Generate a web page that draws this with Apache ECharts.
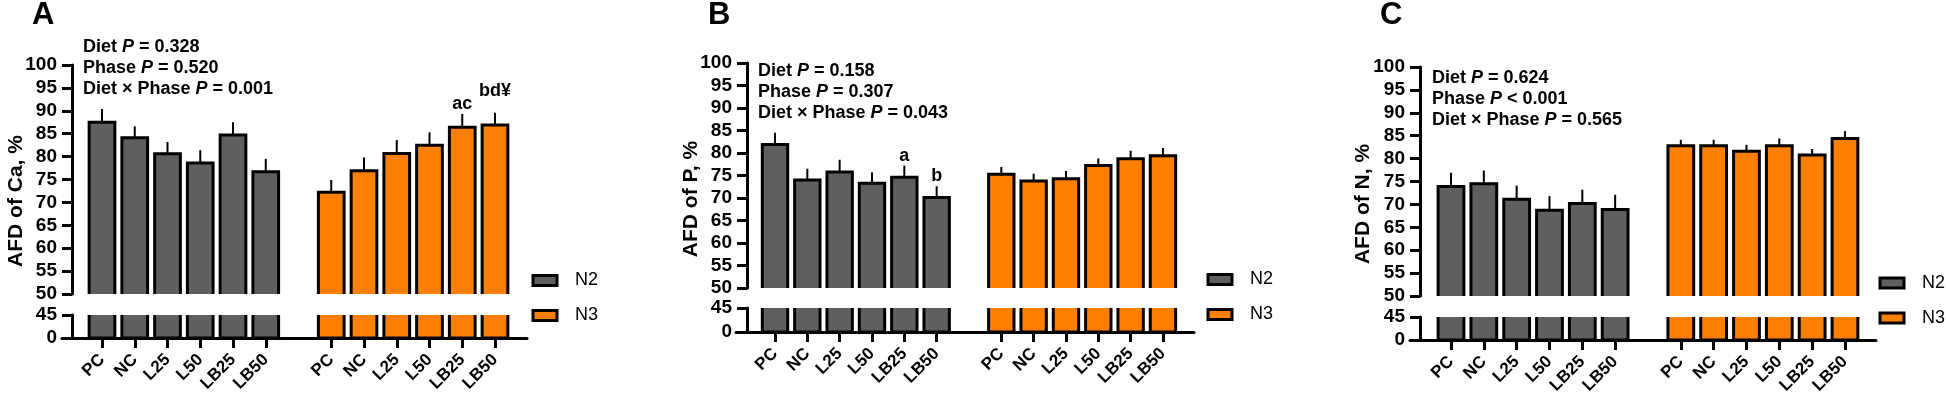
<!DOCTYPE html>
<html><head><meta charset="utf-8">
<script src="https://cdn.jsdelivr.net/npm/echarts@6/dist/echarts.min.js"></script>
<style>html,body{margin:0;padding:0;background:#fff}#c{width:1946px;height:403px}</style>
</head><body><div id="c"></div>
<script>
const FONT = '"Liberation Sans", Arial, Helvetica, sans-serif';

// ---- data ----
const categories = ['PC', 'NC', 'L25', 'L50', 'LB25', 'LB50'];
const seriesNames = ['N2', 'N3'];

const caN2 = [87.5, 84.1, 80.6, 78.6, 84.7, 76.7];
const caN2Sem = [2.9, 2.5, 2.6, 2.8, 2.8, 2.8];
const caN3 = [72.2, 76.9, 80.7, 82.5, 86.4, 86.9];
const caN3Sem = [2.7, 2.9, 2.9, 2.8, 2.9, 2.7];
const caN2Letters = ['', '', '', '', '', ''];
const caN3Letters = ['', '', '', '', 'ac', 'bd¥'];
const caStats = [['Diet', '= 0.328'], ['Phase', '= 0.520'], ['Diet × Phase', '= 0.001']];

const pN2 = [81.9, 74.0, 75.8, 73.3, 74.6, 70.1];
const pN2Sem = [2.6, 2.5, 2.7, 2.4, 2.6, 2.5];
const pN3 = [75.3, 73.8, 74.3, 77.2, 78.7, 79.4];
const pN3Sem = [1.6, 1.6, 1.7, 1.6, 1.8, 1.7];
const pN2Letters = ['', '', '', '', 'a', 'b'];
const pN3Letters = ['', '', '', '', '', ''];
const pStats = [['Diet', '= 0.158'], ['Phase', '= 0.307'], ['Diet × Phase', '= 0.043']];

const nN2 = [73.9, 74.5, 71.1, 68.7, 70.2, 68.9];
const nN2Sem = [3.0, 2.9, 3.0, 3.1, 3.0, 3.2];
const nN3 = [82.8, 82.8, 81.6, 82.8, 80.8, 84.4];
const nN3Sem = [1.3, 1.3, 1.4, 1.6, 1.3, 1.6];
const nN2Letters = ['', '', '', '', '', ''];
const nN3Letters = ['', '', '', '', '', ''];
const nStats = [['Diet', '= 0.624'], ['Phase', '< 0.001'], ['Diet × Phase', '= 0.565']];

const upperMin = 50, upperMax = 100, upperStep = 5;
const lowerMin = 0, lowerMax = 45;

// ---- styling / layout ----
const COLORS = ['#5f5f5f', '#ff8000'];
const BAR_FRAC = 0.785;
const ANNOT_LIFT = { 'bd¥': 13 };
const DEFAULT_LIFT = 1;

const panels = [
  { letter: 'A', yName: 'AFD of Ca, %', vals: [caN2, caN3], sems: [caN2Sem, caN3Sem], letters: [caN2Letters, caN3Letters], stats: caStats,
    L: { axisX: 72, y100: 65, y50: 294, y45: 315, y0: 338, c0: 102, s: 32.75, lineL: 62, lineR: 527, letterX: 32, statsX: 83, statsY: 36.5, nameX: 16, nameY: 201, legendX: 531.5, legendY: 270.5 } },
  { letter: 'B', yName: 'AFD of P, %', vals: [pN2, pN3], sems: [pN2Sem, pN3Sem], letters: [pN2Letters, pN3Letters], stats: pStats,
    L: { axisX: 747, y100: 63, y50: 288, y45: 308, y0: 332, c0: 775, s: 32.33, lineL: 736, lineR: 1194, letterX: 708, statsX: 758, statsY: 60.5, nameX: 691, nameY: 199, legendX: 1206.5, legendY: 269.5 } },
  { letter: 'C', yName: 'AFD of N, %', vals: [nN2, nN3], sems: [nN2Sem, nN3Sem], letters: [nN2Letters, nN3Letters], stats: nStats,
    L: { axisX: 1420, y100: 67, y50: 296, y45: 317, y0: 340, c0: 1451, s: 32.83, lineL: 1410, lineR: 1876, letterX: 1380, statsX: 1432, statsY: 67.5, nameX: 1363, nameY: 204, legendX: 1878.5, legendY: 273 } }
];

const axisCats = [...categories, '', ...categories];

function makeRender(fill, showErr, labels) {
  return function (params, api) {
    const x = api.value(0), v = api.value(1), e = api.value(2);
    const band = api.size([1, 0])[0];
    const w = band * BAR_FRAC;
    const top = api.coord([x, v]);
    const base = api.coord([x, 0]);
    const children = [{
      type: 'rect',
      shape: { x: top[0] - w / 2, y: top[1], width: w, height: base[1] - top[1] },
      style: { fill: fill, stroke: '#000', lineWidth: 3 }
    }];
    if (showErr) {
      const et = api.coord([x, v + e]);
      children.push({ type: 'line', shape: { x1: top[0], y1: top[1], x2: top[0], y2: et[1] },
        style: { stroke: '#000', lineWidth: 2 } });
      const lab = labels[params.dataIndex];
      if (lab) {
        const lift = ANNOT_LIFT[lab] !== undefined ? ANNOT_LIFT[lab] : DEFAULT_LIFT;
        children.push({ type: 'text', x: top[0], y: et[1] - lift,
          style: { text: lab, fill: '#000', fontSize: 18, fontWeight: 'bold', fontFamily: FONT,
            align: 'center', verticalAlign: 'bottom', textAlign: 'center', textVerticalAlign: 'bottom' } });
      }
    }
    return { type: 'group', children: children };
  };
}

const grid = [], xAxis = [], yAxis = [], series = [], title = [], legend = [], graphic = [];
const tickStyle = { color: '#000', width: 3 };
const yLabel = { color: '#000', fontWeight: 'bold', fontSize: 19, fontFamily: FONT, margin: 15 };

panels.forEach((p, k) => {
  const L = p.L;
  const gridLeft = L.c0 - L.s / 2;
  const gridW = L.s * 13;
  const gi = k * 3;
  grid.push({ left: gridLeft, top: L.y100, width: gridW, height: L.y50 - L.y100, containLabel: false, outerBoundsMode: 'none' });
  grid.push({ left: gridLeft, top: L.y45, width: gridW, height: L.y0 - L.y45, containLabel: false, outerBoundsMode: 'none' });
  grid.push({ left: L.lineL, top: L.y45, width: L.lineR - L.lineL, height: L.y0 - L.y45, containLabel: false, outerBoundsMode: 'none' });

  xAxis.push({ gridIndex: gi, type: 'category', data: axisCats, show: false });
  xAxis.push({ gridIndex: gi + 1, type: 'category', data: axisCats, position: 'bottom',
    axisLine: { show: false, onZero: false },
    axisTick: { show: true, alignWithLabel: true, length: 10, interval: (i, v) => v !== '', lineStyle: tickStyle },
    axisLabel: { interval: 0, rotate: 45, color: '#000', fontWeight: 'bold', fontSize: 17, fontFamily: FONT, margin: 19 },
    splitLine: { show: false } });
  xAxis.push({ gridIndex: gi + 2, type: 'value', min: 0, max: 1, position: 'bottom',
    axisLine: { show: true, onZero: false, lineStyle: tickStyle },
    axisTick: { show: false }, axisLabel: { show: false }, splitLine: { show: false } });

  yAxis.push({ gridIndex: gi, type: 'value', min: upperMin, max: upperMax, interval: upperStep, offset: gridLeft - L.axisX,
    axisLine: { show: true, lineStyle: tickStyle }, axisTick: { show: true, length: 10, lineStyle: tickStyle },
    axisLabel: yLabel, splitLine: { show: false } });
  yAxis.push({ gridIndex: gi + 1, type: 'value', min: lowerMin, max: lowerMax, interval: lowerMax - lowerMin, offset: gridLeft - L.axisX,
    axisLine: { show: true, lineStyle: tickStyle }, axisTick: { show: true, length: 10, lineStyle: tickStyle },
    axisLabel: yLabel, splitLine: { show: false } });
  yAxis.push({ gridIndex: gi + 2, type: 'value', min: 0, max: 1, show: false });

  seriesNames.forEach((name, g) => {
    const offsetIdx = g === 0 ? 0 : categories.length + 1;
    const data = categories.map((c, i) => [i + offsetIdx, p.vals[g][i], p.sems[g][i]]);
    [0, 1].forEach(seg => {
      series.push({
        type: 'custom', name: name, xAxisIndex: gi + seg, yAxisIndex: gi + seg, clip: true,
        encode: { x: 0, y: 1 }, data: data, silent: true,
        itemStyle: { color: COLORS[g], borderColor: '#000', borderWidth: 3 },
        renderItem: makeRender(COLORS[g], seg === 0, p.letters[g])
      });
    });
  });

  title.push({ text: p.letter, left: L.letterX, top: 0, padding: 0,
    textStyle: { fontSize: 31, fontWeight: 'bold', fontFamily: FONT, color: '#000' } });
  title.push({
    text: p.stats.map(r => `{n|${r[0]} }{i|P}{n| ${r[1]}}`).join('\n'),
    left: L.statsX, top: L.statsY, padding: 0,
    textStyle: { fontSize: 18, lineHeight: 21, fontWeight: 'bold', fontFamily: FONT, color: '#000',
      rich: {
        n: { fontSize: 18, lineHeight: 21, fontWeight: 'bold', fontFamily: FONT, color: '#000' },
        i: { fontSize: 18, lineHeight: 21, fontWeight: 'bold', fontStyle: 'italic', fontFamily: FONT, color: '#000' }
      } }
  });

  legend.push({
    data: seriesNames.map((n, g) => ({ name: n, itemStyle: { color: COLORS[g], borderColor: '#000', borderWidth: 3 } })),
    orient: 'vertical', left: L.legendX, top: L.legendY, itemWidth: 24, itemHeight: 10, itemGap: 15, padding: 0,
    icon: 'rect', selectedMode: false,
    textStyle: { fontSize: 18, fontFamily: FONT, color: '#000', lineHeight: 20, padding: [0, 0, 0, 13] }
  });

  graphic.push({ type: 'text', x: L.nameX, y: L.nameY, rotation: Math.PI / 2,
    style: { text: p.yName, fill: '#000', fontSize: 21, fontWeight: 'bold', fontFamily: FONT,
      align: 'center', verticalAlign: 'middle', textAlign: 'center', textVerticalAlign: 'middle' } });
});

const chart = echarts.init(document.getElementById('c'), null, { renderer: 'canvas' });
chart.setOption({
  animation: false,
  backgroundColor: '#fff',
  textStyle: { fontFamily: FONT },
  grid, xAxis, yAxis, series, title, legend, graphic
});
</script>
</body></html>
